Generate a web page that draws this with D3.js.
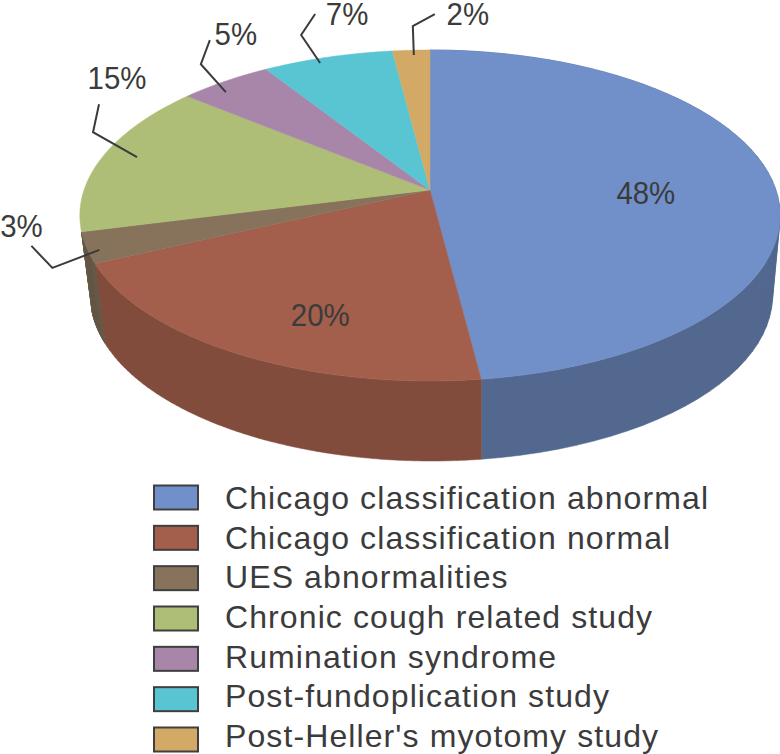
<!DOCTYPE html>
<html>
<head>
<meta charset="utf-8">
<script src="https://cdn.jsdelivr.net/npm/d3@7"></script>
<style>
  html, body { margin: 0; padding: 0; background: #fff; }
  svg { display: block; }
  text { font-family: "Liberation Sans", sans-serif; fill: #3b3b3b; }
</style>
</head>
<body>
<svg id="chart" width="780" height="754"></svg>
<script>
// chart values
const categories = [
  "Chicago classification abnormal",
  "Chicago classification normal",
  "UES abnormalities",
  "Chronic cough related study",
  "Rumination syndrome",
  "Post-fundoplication study",
  "Post-Heller's myotomy study",
];
const shares = [48, 20, 3, 15, 5, 7, 2];
const topColors = ["#7190c9", "#a35f4c", "#87735c", "#afbe76", "#a886aa", "#5ac5d2", "#d2aa66"];
const sideColors = ["#53688f", "#824c3d", "#675847"];

const svg = d3.select("#chart");

// perspective of the tilted disc: far edge is squeezed, near edge stretched
const TILT = 0.154;
const CX = 430;
const FLOOR_CX = 431.5;
const APEX_Y = 190;
const FLOOR_Y = 270;
const RX_TOP = 346;
const RX_FLOOR = 337;
const RY = 161.6;

function project(angle, r, cx, rx, y0) {
  const u = r * Math.sin(angle);
  const v = -r * Math.cos(angle);
  const d = 1 - TILT * v;
  return [cx + (rx * u) / d, y0 + (RY * v) / d];
}
const onTop = (angle, r = 1) => project(angle, r, CX, RX_TOP, APEX_Y);
const onFloor = (angle) => project(angle, 1, FLOOR_CX, RX_FLOOR, FLOOR_Y);

const slices = d3
  .pie()
  .sort(null)
  .value((d) => d)(shares);

const arcAngles = (s) => d3.range(0, 61).map((i) => s.startAngle + ((s.endAngle - s.startAngle) * i) / 60);
const poly = d3.line();

// side wall, only the slices that face the viewer
// one hull per arc step: rim and floor cross near the edges and a plain band would pinch there
svg
  .append("g")
  .selectAll("path")
  .data(slices.slice(0, sideColors.length))
  .join("path")
  .attr("d", (s) => {
    const a = arcAngles(s);
    return a
      .slice(1)
      .map((t, i) => poly(d3.polygonHull([onTop(a[i]), onTop(t), onFloor(t), onFloor(a[i])])) + "Z")
      .join("");
  })
  .attr("fill", (s) => sideColors[s.index])
  .attr("stroke", (s) => sideColors[s.index])
  .attr("stroke-width", 0.5);

// top face
svg
  .append("g")
  .selectAll("path")
  .data(slices)
  .join("path")
  .attr("d", (s) => poly([[CX, APEX_Y]].concat(arcAngles(s).map((t) => onTop(t)))) + "Z")
  .attr("fill", (s) => topColors[s.index])
  .attr("stroke", (s) => topColors[s.index])
  .attr("stroke-width", 0.5);

// where each % label and its leader sit, relative to the slice
const labelLayout = [
  { r: 0.62, nudge: [3, 9], label: [0, 0] },
  { r: 0.62, nudge: [3, 29], label: [0, 0] },
  { r: 0.97, nudge: [2, 4], elbow: [-47, 18], end: [-68, -4], label: [-78, -24] },
  { r: 0.9, nudge: [2, -2], elbow: [-44, -25], end: [-38, -53], label: [-20, -80] },
  { r: 0.93, nudge: [-12, 4], elbow: [-25, -28], end: [-16, -52], label: [10, -59] },
  { r: 0.95, nudge: [-12, 0], elbow: [-19, -28], end: [-5, -49], label: [27, -50] },
  { r: 0.96, nudge: [2, 0], elbow: [-1, -29], end: [21, -41], label: [54, -42] },
];

const midAngle = (s) => (s.startAngle + s.endAngle) / 2;
const anchors = slices.map((s) => {
  const l = labelLayout[s.index];
  const [x, y] = onTop(midAngle(s), l.r);
  return [x + l.nudge[0], y + l.nudge[1]];
});

// leader lines
svg
  .append("g")
  .selectAll("path")
  .data(slices.filter((s) => labelLayout[s.index].elbow))
  .join("path")
  .attr("d", (s) => {
    const [x, y] = anchors[s.index];
    const { elbow, end } = labelLayout[s.index];
    return poly([[x, y], [x + elbow[0], y + elbow[1]], [x + end[0], y + end[1]]]);
  })
  .attr("fill", "none")
  .attr("stroke", "#3b3b3b")
  .attr("stroke-width", 2);

// % labels
svg
  .append("g")
  .selectAll("text")
  .data(slices)
  .join("text")
  .attr("transform", (s) => {
    const l = labelLayout[s.index];
    const [x, y] = anchors[s.index];
    return `translate(${x + l.label[0]},${y + l.label[1] + 11.5}) scale(0.92,1)`;
  })
  .attr("text-anchor", "middle")
  .attr("font-size", 32)
  .text((s) => `${s.data}%`);

// legend, swatches and text do not share quite the same row pitch in the original
const swatchY = d3.scalePoint().domain(categories).range([497.5, 739.5]);
const textY = d3.scalePoint().domain(categories).range([509, 747]);
const legend = svg.append("g");

legend
  .selectAll("rect")
  .data(categories)
  .join("rect")
  .attr("x", 154)
  .attr("y", (d) => swatchY(d) - 12)
  .attr("width", 44)
  .attr("height", 24)
  .attr("fill", (d, i) => topColors[i])
  .attr("stroke", "#3f3f3f")
  .attr("stroke-width", 2);

legend
  .selectAll("text")
  .data(categories)
  .join("text")
  .attr("x", 225)
  .attr("y", (d) => textY(d))
  .attr("font-size", 32)
  .attr("letter-spacing", 1.1)
  .text((d) => d);
</script>
</body>
</html>
